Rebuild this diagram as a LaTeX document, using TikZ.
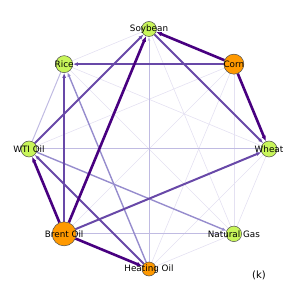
\documentclass[tikz,border=0pt]{standalone}
\usepackage{fontspec}
\setmainfont{DejaVu Sans}
\usetikzlibrary{arrows.meta, backgrounds}
\definecolor{limefill}{RGB}{200,245,90}
\definecolor{orangefill}{RGB}{255,153,0}
\definecolor{darkindigo}{RGB}{72,0,128}
\definecolor{midpurple}{RGB}{104,72,168}
\definecolor{softpurple}{RGB}{150,140,205}
\definecolor{palepurple}{RGB}{192,187,226}
\definecolor{faintpurple}{RGB}{228,225,242}

\begin{document}
\begin{tikzpicture}[
  x=1pt, y=1pt,
  market/.style={
    circle,
    draw=black!70,
    line width=0.5pt,
    inner sep=0pt,
    fill=limefill
  },
  hub/.style={market, fill=orangefill},
  every label/.append style={font=\fontsize{8.8}{10}\selectfont, inner sep=0pt},
  faint/.style={line width=0.6pt, faintpurple},
  pale/.style={line width=1pt, palepurple},
  soft/.style={-{Latex[length=4.5pt,width=3.5pt]}, line width=1.4pt, softpurple},
  medium/.style={-{Latex[length=5pt,width=4pt]}, line width=2pt, midpurple},
  strong/.style={-{Latex[length=5.5pt,width=4.5pt]}, line width=2.6pt, darkindigo}
]
\useasboundingbox (-149,-150) rectangle (150,149);
\node[market, minimum size=15pt, label=center:Soybean] (soybean) at (90:120) {};
\node[hub, minimum size=20pt, label=center:Corn] (corn) at (45:120) {};
\node[market, minimum size=16pt, label=center:Wheat] (wheat) at (0:120) {};
\node[market, minimum size=15.5pt, label=center:Natural Gas] (natgas) at (-45:120) {};
\node[hub, minimum size=14pt, label=center:Heating Oil] (heating) at (-90:120) {};
\node[hub, minimum size=24pt, label=center:Brent Oil] (brent) at (-135:120) {};
\node[market, minimum size=16pt, label=center:WTI Oil] (wti) at (180:120) {};
\node[market, minimum size=17pt, label=center:Rice] (rice) at (135:120) {};
\node[font=\fontsize{10}{12}\selectfont] (panel) at (110,-126) {(k)};

\begin{scope}[on background layer]
  \foreach \a/\b in {soybean/natgas, soybean/rice, corn/natgas, corn/heating,
      corn/brent, corn/wti, wheat/natgas, wheat/heating, wheat/rice,
      natgas/heating, natgas/rice}
    \draw[faint] (\a) -- (\b);
  \foreach \a/\b in {wti/wheat, brent/natgas, wti/rice}
    \draw[pale] (\a) -- (\b);
  \draw[pale, -{Latex[length=4pt,width=3pt]}] (heating) -- (soybean);
  \foreach \a/\b in {heating/rice, wti/natgas}
    \draw[soft] (\a) -- (\b);
  \foreach \a/\b in {corn/rice, soybean/wheat, wti/soybean, brent/rice,
      brent/wheat, heating/wti}
    \draw[medium] (\a) -- (\b);
  \foreach \a/\b in {corn/soybean, corn/wheat, brent/soybean, brent/wti,
      brent/heating}
    \draw[strong] (\a) -- (\b);
\end{scope}
\end{tikzpicture}
\end{document}
